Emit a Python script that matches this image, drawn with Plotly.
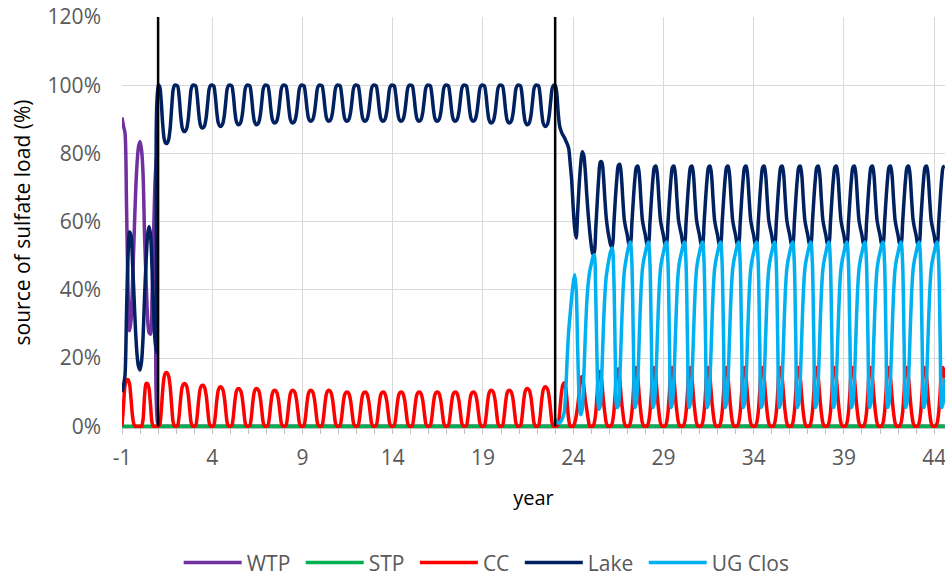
import plotly.graph_objects as go

# ---------------------------------------------------------------------------
# Monthly sulfate-load shares (%) by source, from year -1 onward
# ---------------------------------------------------------------------------
YEAR0 = -1
N_MONTHS = 548                      # -1.0 ... 44.58
SWITCH_YEARS = [1, 23]              # operating changes (vertical markers)

tick_years = [-1, 4, 9, 14, 19, 24, 29, 34, 39, 44]
tick_labels = ["-1", "4", "9", "14", "19", "24", "29", "34", "39", "44"]

# Years -1 and 0, month by month
wtp_early = [90.5, 88, 86, 65, 40, 28, 31, 42, 55, 68, 77, 82,
             83.5, 81, 74, 56, 43, 32, 27.5, 27, 38, 56, 72, 79]
lake_early = [10, 12, 15, 33, 50, 57, 56, 48, 38, 28, 21, 17.5,
              16.5, 19, 26, 38, 48, 56, 58.6, 56, 46, 34, 25, 21.6]
cc_early = [0, 6, 12, 13.5, 13.7, 12.5, 8, 3, 0.5, 0, 0, 0,
            0, 0, 2, 9, 12.5, 12.5, 11, 6, 1, 0, 0, 0]

# Years 1-22: one CC pulse per year, lake dips by the same amount
lake_low_mid = [83, 86.5, 87.5, 88, 88.5, 88.5, 89, 89, 89.5, 89.5, 89.5,
                89.5, 89.5, 89.5, 89.5, 89.5, 89.5, 89.5, 89, 89, 88.5, 88]
cc_peak_mid = [15.7, 12.5, 12, 11.5, 11, 11, 10.5, 10.5, 10.5, 10.5, 10,
               10, 10, 10, 10, 10, 10, 10, 10.5, 10.5, 11, 11.5]
pulse_mid = [0, 0.02, 0.25, 0.65, 0.92, 1.0, 1.0, 0.94, 0.75, 0.4, 0.08, 0]

# Years 23-26, month by month (UG closure water enters at year 23)
lake_late = [100, 98, 92, 88, 86.5, 85.5, 84.8, 83.8, 82.8, 81.5, 77, 72,
             64, 58, 55.2, 63, 71, 77, 80.5, 79.5, 75, 68, 62, 57,
             53, 50.5, 51, 58, 66, 73, 77.5, 77.5, 74, 67, 61, 57.5,
             55, 53, 52.5, 59, 66.5, 72.5, 76.5, 76.8, 73.5, 66.5, 60.5, 58]
ug_late = [2, 1.5, 1, 1, 1.5, 2.5, 4, 10, 20, 28, 33, 38,
           42, 44.4, 40, 22, 8, 3.4, 5, 14, 26, 36, 42, 45.5,
           47.5, 49.5, 50.3, 38, 16, 5, 6, 15, 28, 38, 44, 47,
           49.5, 51.5, 52.3, 44, 20, 5.5, 6, 14, 27, 38.5, 45.5, 48.5]
cc_late = [0, 0, 0.5, 4, 9, 12, 12.8, 11.5, 7, 2, 0, 0,
           0, 1, 3, 6, 10, 14, 14.6, 12, 8, 5, 2, 0,
           0, 0, 1, 4, 10, 15.5, 16.1, 13, 8, 4, 1, 0,
           0, 0, 1, 4, 10, 16, 16.8, 13.5, 8, 4, 1, 0]

# Years 27-44: settled yearly cycle
lake_cycle = [56, 53.5, 53, 59.5, 66.5, 72.5, 76, 76.3, 73.5, 66.5, 60.5, 58]
ug_cycle = [51, 53, 54, 48, 25, 5.5, 7, 14, 27, 39, 46, 49]
cc_cycle = [0, 0, 1, 4, 10, 16.5, 17.2, 14, 8.5, 4, 1, 0]

# ---------------------------------------------------------------------------
# Assemble the monthly series
# ---------------------------------------------------------------------------
months = list(range(N_MONTHS))
year = [YEAR0 + m / 12 for m in months]

wtp = list(wtp_early)
lake = list(lake_early)
cc = list(cc_early)
ug = [None] * len(wtp_early)

for low, peak in zip(lake_low_mid, cc_peak_mid):
    lake += [100 - (100 - low) * s for s in pulse_mid]
    cc += [peak * s for s in pulse_mid]
    wtp += [0] * 12
    ug += [None] * 12

lake += lake_late
ug += ug_late
cc += cc_late
wtp += [0] * len(lake_late)

while len(lake) < N_MONTHS:
    lake += lake_cycle
    ug += ug_cycle
    cc += cc_cycle
    wtp += [0] * 12

lake, ug, cc, wtp = (s[:N_MONTHS] for s in (lake, ug, cc, wtp))
stp = [0] * N_MONTHS

# legend entries get a trailing no-break space for wider item spacing
NBSP = "\u00a0"
series = [
    ("WTP" + NBSP, wtp, "#7030A0"),
    ("STP" + NBSP, stp, "#00B050"),
    ("CC" + NBSP, cc, "#FF0000"),
    ("Lake" + NBSP, lake, "#002060"),
    ("UG Clos", ug, "#00B0F0"),
]

FONT = "Open Sans"
GREY = "#595959"

fig = go.Figure()
for name, values, color in series:
    fig.add_trace(go.Scatter(
        x=year, y=values, name=name, mode="lines",
        line=dict(color=color, width=3.5, shape="spline", smoothing=0.8),
        connectgaps=False,
    ))

for yr in SWITCH_YEARS:
    fig.add_shape(type="line", x0=yr, x1=yr, y0=0, y1=120,
                  xref="x", yref="y", layer="above",
                  line=dict(color="black", width=2.5))

fig.update_layout(
    width=945, height=579,
    margin=dict(l=122, r=0, t=17, b=151),
    paper_bgcolor="white", plot_bgcolor="white",
    font=dict(family=FONT, size=21, color=GREY),
    showlegend=True,
    legend=dict(
        orientation="h", xref="container", x=0.515, xanchor="center",
        yref="container", y=0.028, yanchor="middle",
        font=dict(family=FONT, size=21, color=GREY),
        itemwidth=58, traceorder="normal",
    ),
)

fig.update_xaxes(
    range=[-1, 44.6], tickvals=tick_years, ticktext=tick_labels,
    showgrid=True, gridcolor="#D9D9D9", gridwidth=1,
    showline=True, linecolor="#BFBFBF", linewidth=1,
    ticks="outside", ticklen=5, tickcolor="#BFBFBF",
    minor=dict(dtick=1, tick0=-1, ticks="outside", ticklen=5,
               tickcolor="#BFBFBF", showgrid=False),
    tickfont=dict(family=FONT, size=21, color=GREY),
    ticklabelstandoff=6, ticklabeloverflow="allow",
    zeroline=False,
    title=dict(text="year", standoff=20,
               font=dict(family=FONT, size=20, color="black")),
)

fig.update_yaxes(
    range=[-0.5, 120], tick0=0, dtick=20, ticksuffix="%",
    showgrid=True, gridcolor="#D9D9D9", gridwidth=1,
    showline=False, ticks="", zeroline=False,
    tickfont=dict(family=FONT, size=21, color=GREY),
    ticklabelstandoff=20,
    title=dict(text="source of sulfate load (%)", standoff=11,
               font=dict(family=FONT, size=21, color="black")),
)

fig.write_html("out.html")
